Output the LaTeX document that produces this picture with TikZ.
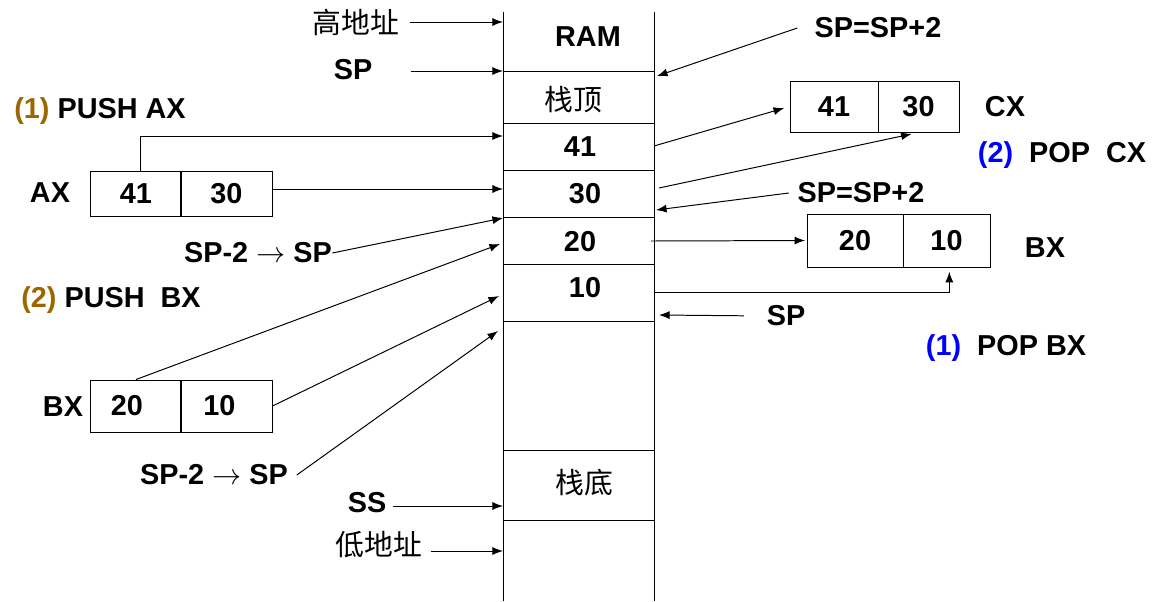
\documentclass[tikz,border=0pt]{standalone}
\usepackage{fontspec}
\setmainfont{Liberation Sans}
\newfontfamily\cjk{Noto Sans CJK SC}
\usepackage{tikz}
\usetikzlibrary{arrows.meta}
\definecolor{stepbrown}{RGB}{156,102,0}
\definecolor{stepblue}{RGB}{0,0,255}

\begin{document}
\begin{tikzpicture}[x=0.025cm, y=-0.025cm, line width=0.7pt,
    >={Latex[length=7.5pt,width=5.7pt]},
    txt/.style={inner sep=0pt, font=\fontsize{20.5}{24}\selectfont\bfseries},
    hanzi/.style={inner sep=0pt, font=\fontsize{20.5}{24}\selectfont\cjk},
    cell/.style={draw, inner sep=0pt, minimum height=#1, font=\fontsize{20.5}{24}\selectfont\bfseries}]
  \useasboundingbox (0,0) rectangle (1164,601);

  % Stack memory
  \draw (503,12) -- (503,601);
  \draw (654,12) -- (654,601);
  \foreach \y in {71,123,170,217,264,321,450,520}
    \draw (503,\y) -- (654,\y);
  \node[txt] (ram) at (588,37) {RAM};
  \node[hanzi] (top) at (573,100) {栈顶};
  \node[txt] (m41) at (580,147) {41};
  \node[txt] (m30) at (585,194) {30};
  \node[txt] (m20) at (580,242) {20};
  \node[txt] (m10) at (585,288) {10};
  \node[hanzi] (bottom) at (584,483) {栈底};

  % Left labels
  \node[hanzi] (high) at (356,22) {高地址};
  \node[txt] (spTop) at (353,70) {SP};
  \node[txt] (ss) at (367,503) {SS};
  \node[hanzi] (low) at (379,545) {低地址};
  \node[txt] (push1) at (100,111) {\textcolor{stepbrown}{(1)} PUSH AX};
  \node[txt] (push2) at (111,300) {\textcolor{stepbrown}{(2)} PUSH\ \ BX};
  \node[txt] (axName) at (50,193) {AX};
  \node[txt] (bxName) at (63,407) {BX};
  \node[txt] (push1sp) at (258,253) {SP-2 $\rightarrow$ SP};
  \node[txt] (push2sp) at (214,475) {SP-2 $\rightarrow$ SP};

  % Registers
  \node[cell=1.125cm, minimum width=2.25cm] (ax41) at (136,193.5) {41};
  \node[cell=1.125cm, minimum width=2.275cm] (ax30) at (226.5,193.5) {30};
  \node[cell=1.3cm, minimum width=2.25cm] (bx20) at (136,406) {\hspace{-0.45cm}20};
  \node[cell=1.3cm, minimum width=2.275cm] (bx10) at (226.5,406) {\hspace{-0.35cm}10};
  \node[cell=1.275cm, minimum width=2.2cm] (cx41) at (834,106.5) {41};
  \node[cell=1.275cm, minimum width=2.025cm] (cx30) at (918.5,106.5) {30\hspace{0.4cm}};
  \node[cell=1.325cm, minimum width=2.4cm] (bxr20) at (855,240.5) {20};
  \node[cell=1.325cm, minimum width=2.175cm] (bxr10) at (946.5,240.5) {10};

  % Right labels
  \node[txt] (spPlus1) at (878,28) {SP=SP+2};
  \node[txt] (spPlus2) at (861,193) {SP=SP+2};
  \node[txt] (spLow) at (786,316) {SP};
  \node[txt] (cxName) at (1005,107) {CX};
  \node[txt] (bxrName) at (1045,248) {BX};
  \node[txt] (pop2) at (1062,155) {\textcolor{stepblue}{(2)}\ \ POP\ \ CX};
  \node[txt] (pop1) at (1006,348) {\textcolor{stepblue}{(1)}\ \ POP BX};

  % Edge points on the stack
  \coordinate (inHigh) at (503,22);
  \coordinate (inSp) at (503,71);
  \coordinate (in41) at (503,136);
  \coordinate (in30) at (503,189);
  \coordinate (inPush1) at (503,218);
  \coordinate (inBx20) at (500,244);
  \coordinate (inBx10) at (499,296);
  \coordinate (inPush2) at (498,331);
  \coordinate (inSs) at (503,506);
  \coordinate (inLow) at (503,551);
  \coordinate (outSp1) at (657,76);
  \coordinate (out41) at (654,146);
  \coordinate (out30) at (659,188);
  \coordinate (outSp2) at (656,210);
  \coordinate (out20) at (651,241);
  \coordinate (out10) at (654,292);
  \coordinate (outSp3) at (659,315);

  % Edges
  \draw[->] (high.east) ++(10,0) -- (inHigh);
  \draw[->] (spTop.east) ++(38,1) -- (inSp);
  \draw[->] (ss.east) ++(6,3) -- (inSs);
  \draw[->] (low.east) ++(8,6) -- (inLow);
  \draw[->] ([xshift=3]ax41.north) |- (in41);
  \draw[->] (ax30.east |- in30) -- (in30);
  \draw[->] (push1sp.east) -- (inPush1);
  \draw[->] (bx20.north) -- (inBx20);
  \draw[->] (bx10.east) -- (inBx10);
  \draw[->] ([xshift=6]push2sp.east) -- (inPush2);
  \draw[->] ([xshift=-12]spPlus1.west) -- (outSp1);
  \draw[->, shorten >=4pt] (out41) -- (cx41.west);
  \draw[->, shorten >=5pt] (out30) -- (cx30.south);
  \draw[->] ([xshift=-6]spPlus2.west) -- (outSp2);
  \draw[->, shorten >=1pt] (out20) -- (bxr20.west);
  \draw[->, shorten >=3pt] (out10) -| ([xshift=2]bxr10.south);
  \draw[->, shorten <=16pt] (spLow.west) -- (outSp3);
\end{tikzpicture}
\end{document}
